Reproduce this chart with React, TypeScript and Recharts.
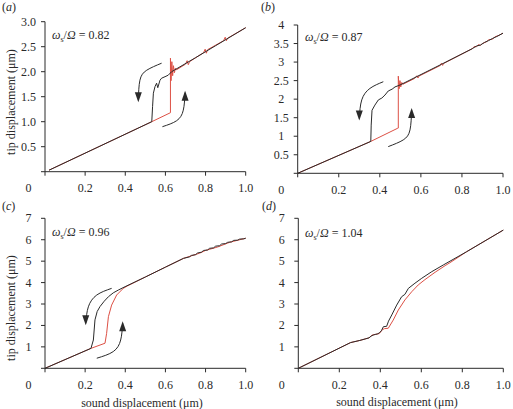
import React from "react";
import { LineChart, Line, XAxis, YAxis } from "recharts";

type Pt = { x: number; y: number };

const FONT = "Liberation Serif, DejaVu Serif, serif";
const INK = "#2a2a2a";
const RED = "#dd5045";

const xTicks = [0, 0.2, 0.4, 0.6, 0.8, 1.0];
const yTicksA = [0, 0.5, 1.0, 1.5, 2.0, 2.5, 3.0];
const yTicksB = [0, 0.5, 1, 1.5, 2, 2.5, 3, 3.5, 4];
const yTicksCD = [0, 1, 2, 3, 4, 5, 6, 7];
const ratios = ["0.82", "0.87", "0.96", "1.04"];
const letters = ["a", "b", "c", "d"];
const xTitle = "sound displacement (μm)";
const yTitle = "tip displacement (μm)";

// (a) ωs/Ω = 0.82
const aBlack: Pt[] = [
  { x: 0.02, y: 0.03 }, { x: 0.532, y: 1.0 }, { x: 0.536, y: 1.3 }, { x: 0.54, y: 1.57 },
  { x: 0.548, y: 1.7 }, { x: 0.556, y: 1.77 }, { x: 0.562, y: 1.68 }, { x: 0.573, y: 1.83 },
  { x: 0.581, y: 1.87 }, { x: 0.598, y: 1.9 }, { x: 0.614, y: 1.93 }, { x: 0.631, y: 2.0 },
  { x: 0.75, y: 2.28 }, { x: 0.85, y: 2.52 }, { x: 1.0, y: 2.88 },
];
const aRed: Pt[] = [
  { x: 0.02, y: 0.03 }, { x: 0.532, y: 1.0 }, { x: 0.625, y: 1.18 }, { x: 0.625, y: 2.27 },
  { x: 0.628, y: 1.82 }, { x: 0.632, y: 2.2 }, { x: 0.636, y: 1.92 }, { x: 0.64, y: 2.12 },
  { x: 0.645, y: 1.98 }, { x: 0.65, y: 2.07 }, { x: 0.656, y: 2.04 }, { x: 0.7, y: 2.15 },
  { x: 0.708, y: 2.22 }, { x: 0.714, y: 2.14 }, { x: 0.72, y: 2.2 }, { x: 0.79, y: 2.38 },
  { x: 0.798, y: 2.45 }, { x: 0.804, y: 2.37 }, { x: 0.81, y: 2.44 }, { x: 0.89, y: 2.62 },
  { x: 0.898, y: 2.69 }, { x: 0.904, y: 2.62 }, { x: 0.91, y: 2.67 }, { x: 1.0, y: 2.88 },
];
const aArrowDown: Pt[] = [{ x: 0.581, y: 2.17 }, { x: 0.507, y: 2.03 }, { x: 0.473, y: 1.83 }, { x: 0.465, y: 1.43 }];
const aArrowUp: Pt[] = [{ x: 0.585, y: 0.9 }, { x: 0.656, y: 1.02 }, { x: 0.689, y: 1.23 }, { x: 0.698, y: 1.58 }];

// (b) ωs/Ω = 0.87
const bBlack: Pt[] = [
  { x: 0, y: 0 }, { x: 0.356, y: 0.86 }, { x: 0.358, y: 1.3 }, { x: 0.362, y: 1.7 },
  { x: 0.376, y: 1.84 }, { x: 0.393, y: 1.98 }, { x: 0.41, y: 2.03 }, { x: 0.425, y: 2.11 },
  { x: 0.441, y: 2.22 }, { x: 0.46, y: 2.27 }, { x: 0.474, y: 2.33 }, { x: 0.498, y: 2.38 },
  { x: 0.7, y: 2.94 }, { x: 0.85, y: 3.36 }, { x: 0.87, y: 3.43 }, { x: 0.89, y: 3.46 },
  { x: 0.91, y: 3.53 }, { x: 0.93, y: 3.58 }, { x: 0.95, y: 3.64 }, { x: 0.97, y: 3.69 },
  { x: 1.0, y: 3.78 },
];
const bRed: Pt[] = [
  { x: 0, y: 0 }, { x: 0.356, y: 0.86 }, { x: 0.485, y: 1.21 }, { x: 0.49, y: 1.22 },
  { x: 0.49, y: 2.62 }, { x: 0.494, y: 2.28 }, { x: 0.498, y: 2.5 }, { x: 0.502, y: 2.33 },
  { x: 0.507, y: 2.45 }, { x: 0.512, y: 2.4 }, { x: 0.57, y: 2.56 }, { x: 0.58, y: 2.63 },
  { x: 0.586, y: 2.57 }, { x: 0.59, y: 2.62 }, { x: 0.695, y: 2.91 }, { x: 0.7, y: 2.97 },
  { x: 0.706, y: 2.91 }, { x: 0.71, y: 2.96 }, { x: 0.85, y: 3.36 }, { x: 0.86, y: 3.42 },
  { x: 0.87, y: 3.41 }, { x: 0.88, y: 3.47 }, { x: 0.89, y: 3.45 }, { x: 0.9, y: 3.5 },
  { x: 0.92, y: 3.55 }, { x: 0.93, y: 3.6 }, { x: 0.95, y: 3.62 }, { x: 0.96, y: 3.68 },
  { x: 0.98, y: 3.72 }, { x: 1.0, y: 3.78 },
];
const bArrowDown: Pt[] = [{ x: 0.417, y: 2.47 }, { x: 0.352, y: 2.29 }, { x: 0.312, y: 1.98 }, { x: 0.3, y: 1.48 }];
const bArrowUp: Pt[] = [{ x: 0.441, y: 0.72 }, { x: 0.514, y: 0.9 }, { x: 0.547, y: 1.17 }, { x: 0.555, y: 1.71 }];

// (c) ωs/Ω = 0.96
const cBlack: Pt[] = [
  { x: 0, y: 0 }, { x: 0.229, y: 0.93 }, { x: 0.241, y: 1.32 }, { x: 0.249, y: 2.26 },
  { x: 0.26, y: 2.65 }, { x: 0.274, y: 2.88 }, { x: 0.295, y: 3.13 }, { x: 0.316, y: 3.34 },
  { x: 0.34, y: 3.52 }, { x: 0.365, y: 3.65 }, { x: 0.399, y: 3.81 }, { x: 0.5, y: 4.26 },
  { x: 0.6, y: 4.72 }, { x: 0.69, y: 5.13 }, { x: 0.72, y: 5.2 }, { x: 0.73, y: 5.27 },
  { x: 0.75, y: 5.3 }, { x: 0.76, y: 5.38 }, { x: 0.78, y: 5.42 }, { x: 0.79, y: 5.5 },
  { x: 0.81, y: 5.52 }, { x: 0.82, y: 5.6 }, { x: 0.84, y: 5.62 }, { x: 0.85, y: 5.7 },
  { x: 0.87, y: 5.72 }, { x: 0.88, y: 5.8 }, { x: 0.9, y: 5.82 }, { x: 0.91, y: 5.88 },
  { x: 0.93, y: 5.9 }, { x: 0.94, y: 5.97 }, { x: 0.96, y: 5.98 }, { x: 0.97, y: 6.03 },
  { x: 0.99, y: 6.04 }, { x: 1.0, y: 6.07 },
];
const cRed: Pt[] = [
  { x: 0, y: 0 }, { x: 0.229, y: 0.93 }, { x: 0.299, y: 1.17 }, { x: 0.307, y: 1.63 },
  { x: 0.316, y: 2.41 }, { x: 0.332, y: 2.95 }, { x: 0.357, y: 3.42 }, { x: 0.39, y: 3.73 },
  { x: 0.41, y: 3.84 }, { x: 0.5, y: 4.26 }, { x: 0.6, y: 4.72 }, { x: 0.69, y: 5.13 },
  { x: 0.77, y: 5.37 }, { x: 0.8, y: 5.5 }, { x: 0.86, y: 5.66 }, { x: 0.92, y: 5.88 },
  { x: 1.0, y: 6.07 },
];
const cArrowDown: Pt[] = [{ x: 0.332, y: 3.73 }, { x: 0.258, y: 3.42 }, { x: 0.216, y: 2.87 }, { x: 0.203, y: 2.1 }];
const cArrowUp: Pt[] = [{ x: 0.258, y: 0.47 }, { x: 0.34, y: 0.78 }, { x: 0.377, y: 1.32 }, { x: 0.387, y: 2.1 }];

// (d) ωs/Ω = 1.04
const dBlack: Pt[] = [
  { x: 0, y: 0 }, { x: 0.255, y: 1.2 }, { x: 0.3, y: 1.3 }, { x: 0.33, y: 1.38 },
  { x: 0.345, y: 1.42 }, { x: 0.355, y: 1.5 }, { x: 0.365, y: 1.55 }, { x: 0.375, y: 1.58 },
  { x: 0.385, y: 1.6 }, { x: 0.395, y: 1.65 }, { x: 0.405, y: 1.75 }, { x: 0.415, y: 1.94 },
  { x: 0.431, y: 1.96 }, { x: 0.44, y: 2.2 }, { x: 0.456, y: 2.49 }, { x: 0.48, y: 2.95 },
  { x: 0.504, y: 3.34 }, { x: 0.52, y: 3.45 }, { x: 0.537, y: 3.73 }, { x: 0.569, y: 3.97 },
  { x: 0.602, y: 4.2 }, { x: 0.651, y: 4.51 }, { x: 0.707, y: 4.82 }, { x: 0.821, y: 5.44 },
  { x: 1.0, y: 6.45 },
];
const dRed: Pt[] = [
  { x: 0, y: 0 }, { x: 0.255, y: 1.2 }, { x: 0.3, y: 1.3 }, { x: 0.33, y: 1.38 },
  { x: 0.345, y: 1.42 }, { x: 0.36, y: 1.55 }, { x: 0.375, y: 1.58 }, { x: 0.395, y: 1.62 },
  { x: 0.41, y: 1.8 }, { x: 0.42, y: 1.85 }, { x: 0.439, y: 1.87 }, { x: 0.463, y: 2.25 },
  { x: 0.488, y: 2.72 }, { x: 0.52, y: 3.19 }, { x: 0.553, y: 3.57 }, { x: 0.585, y: 3.89 },
  { x: 0.618, y: 4.14 }, { x: 0.667, y: 4.48 }, { x: 0.716, y: 4.79 }, { x: 0.74, y: 4.93 },
  { x: 0.821, y: 5.44 }, { x: 1.0, y: 6.45 },
];

type Arrow = { pts: Pt[]; dir: "down" | "up" };
type PanelCfg = {
  left: number; top: number; width: number; height: number;
  plot: { x0: number; x1: number; y0: number; y1: number };
  yDomain: [number, number]; yTicks: number[]; yFmt: (v: number) => string;
  black: Pt[]; red: Pt[]; arrows: Arrow[];
};

const panels: PanelCfg[] = [
  {
    left: 0, top: 0, width: 260, height: 200,
    plot: { x0: 45, x1: 245.7, y0: 21.7, y1: 171.7 },
    yDomain: [0, 3], yTicks: yTicksA, yFmt: (v) => (v === 0 ? "0" : v.toFixed(1)),
    black: aBlack, red: aRed,
    arrows: [{ pts: aArrowDown, dir: "down" }, { pts: aArrowUp, dir: "up" }],
  },
  {
    left: 255, top: 0, width: 258, height: 200,
    plot: { x0: 297.7, x1: 503, y0: 25, y1: 173.3 },
    yDomain: [0, 4], yTicks: yTicksB, yFmt: (v) => String(v),
    black: bBlack, red: bRed,
    arrows: [{ pts: bArrowDown, dir: "down" }, { pts: bArrowUp, dir: "up" }],
  },
  {
    left: 0, top: 200, width: 260, height: 209,
    plot: { x0: 45, x1: 245.7, y0: 218.3, y1: 368.3 },
    yDomain: [0, 7], yTicks: yTicksCD, yFmt: (v) => String(v),
    black: cBlack, red: cRed,
    arrows: [{ pts: cArrowDown, dir: "down" }, { pts: cArrowUp, dir: "up" }],
  },
  {
    left: 255, top: 200, width: 258, height: 209,
    plot: { x0: 298.3, x1: 503.3, y0: 218.3, y1: 368.3 },
    yDomain: [0, 7], yTicks: yTicksCD, yFmt: (v) => String(v),
    black: dBlack, red: dRed,
    arrows: [],
  },
];

const textStyle = { fontFamily: FONT, fontSize: 12 };

function XTick(props: any) {
  const { x, y, payload } = props;
  if (payload.value === 0) return <g />;
  return (
    <text x={x} y={y} dy={14.6} textAnchor="middle" style={textStyle} fill={INK}>
      {payload.value.toFixed(1)}
    </text>
  );
}

function makeYTick(fmt: (v: number) => string) {
  return (props: any) => {
    const { x, y, payload } = props;
    const v = payload.value as number;
    return (
      <text x={x - 10.5} y={v === 0 ? y + 20.6 : y + 4} textAnchor="middle" style={textStyle} fill={INK}>
        {fmt(v)}
      </text>
    );
  };
}

function headDot(n: number, dir: "down" | "up") {
  return (p: any) => {
    if (p.index !== n - 1) return <g key={`h-${p.index}`} />;
    const { cx, cy } = p;
    const d =
      dir === "down"
        ? `M${cx},${cy + 2} L${cx - 3.5},${cy - 8} L${cx + 3.5},${cy - 8} Z`
        : `M${cx},${cy - 2} L${cx - 3.5},${cy + 8} L${cx + 3.5},${cy + 8} Z`;
    return <path key={`h-${p.index}`} d={d} fill={INK} stroke="none" />;
  };
}

function Panel({ cfg }: { cfg: PanelCfg }) {
  const { left, top, width, height, plot } = cfg;
  const xAxisH = 24;
  const margin = {
    top: plot.y0 - top,
    right: left + width - plot.x1,
    bottom: top + height - plot.y1 - xAxisH,
    left: 0,
  };
  return (
    <div style={{ position: "absolute", left, top }}>
      <LineChart width={width} height={height} margin={margin}>
        <XAxis
          type="number" dataKey="x" domain={[0, 1]} ticks={xTicks} interval={0}
          height={xAxisH} tickSize={4} tickMargin={2}
          axisLine={{ stroke: INK }} tickLine={{ stroke: INK }} tick={XTick}
        />
        <YAxis
          type="number" domain={cfg.yDomain} ticks={cfg.yTicks} interval={0}
          width={plot.x0 - left} tickSize={4} tickMargin={2}
          axisLine={{ stroke: INK }} tickLine={{ stroke: INK }} tick={makeYTick(cfg.yFmt)}
        />
        {cfg.arrows.map((a, i) => (
          <Line
            key={`arrow-${i}`} data={a.pts} dataKey="y" type="natural"
            stroke={INK} strokeWidth={1} dot={headDot(a.pts.length, a.dir)}
            activeDot={false} isAnimationActive={false}
          />
        ))}
        <Line data={cfg.red} dataKey="y" type="linear" stroke={RED} strokeWidth={1} dot={false} activeDot={false} isAnimationActive={false} />
        <Line data={cfg.black} dataKey="y" type="linear" stroke={INK} strokeWidth={1} dot={false} activeDot={false} isAnimationActive={false} />
      </LineChart>
    </div>
  );
}

const letterPos = [[2, 10.5], [261, 10.5], [2, 210], [262, 210]];
const ratioPos = [[52, 39], [305, 40.5], [52, 236], [305, 237]];

export default function App() {
  return (
    <div style={{ position: "absolute", left: 0, top: 0, width: 513, height: 409, background: "#fff" }}>
      {panels.map((p, i) => (
        <Panel key={i} cfg={p} />
      ))}
      <svg width={513} height={409} style={{ position: "absolute", left: 0, top: 0, pointerEvents: "none", ...textStyle }}
        fill={INK}>
        {letters.map((l, i) => (
          <text key={l} x={letterPos[i][0]} y={letterPos[i][1]}>
            (<tspan fontStyle="italic">{l}</tspan>)
          </text>
        ))}
        {ratios.map((r, i) => (
          <text key={r} x={ratioPos[i][0]} y={ratioPos[i][1]}>
            <tspan fontStyle="italic">ω</tspan>
            <tspan fontSize={8} dy={3}>s</tspan>
            <tspan dy={-3}>/</tspan>
            <tspan fontStyle="italic">Ω</tspan>
            {" = " + r}
          </text>
        ))}
        <text transform="translate(11,102) rotate(-90)" textAnchor="middle" dominantBaseline="central">{yTitle}</text>
        <text transform="translate(11,308) rotate(-90)" textAnchor="middle" dominantBaseline="central">{yTitle}</text>
        <text x={142} y={406.5} textAnchor="middle">{xTitle}</text>
        <text x={397} y={405.5} textAnchor="middle">{xTitle}</text>
      </svg>
    </div>
  );
}
